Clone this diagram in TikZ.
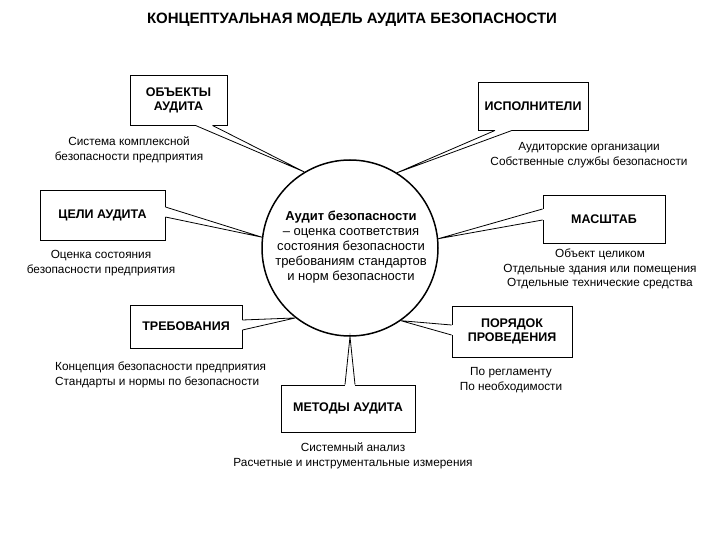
\documentclass[tikz,border=0pt]{standalone}
\usepackage{fontspec}
\setmainfont{Liberation Sans}
\begin{document}
\begin{tikzpicture}[x=1pt,y=-1pt,
  box/.style={draw,line width=0.9pt,fill=white,align=center,font=\bfseries\fontsize{12.5}{14}\selectfont,inner sep=2pt},
  note/.style={align=center,font=\fontsize{11.8}{14.5}\selectfont,inner sep=0pt},
  wedge/.style={draw,line width=0.8pt}]
\useasboundingbox (0,0) rectangle (720,540);
\node[font=\bfseries\fontsize{15}{17}\selectfont] (title) at (352,20) {КОНЦЕПТУАЛЬНАЯ МОДЕЛЬ АУДИТА БЕЗОПАСНОСТИ};
\node[circle,draw,line width=1.5pt,minimum size=176pt,inner sep=0pt] (c) at (350,248) {};
\node[align=center,font=\fontsize{13}{15}\selectfont] (ct) at (351,247) {\textbf{Аудит безопасности}\\– оценка соответствия\\состояния безопасности\\требованиям стандартов\\и норм безопасности};
% boxes
\node[box,minimum width=97pt,minimum height=50pt] (obj) at (178.5,100) {ОБЪЕКТЫ\\АУДИТА};
\node[box,minimum width=110pt,minimum height=48pt] (isp) at (533,106) {ИСПОЛНИТЕЛИ};
\node[box,minimum width=125pt,minimum height=50pt] (tsel) at (102.5,215) {ЦЕЛИ АУДИТА};
\node[box,minimum width=122pt,minimum height=48pt] (mas) at (604,219) {МАСШТАБ};
\node[box,minimum width=112pt,minimum height=43pt] (treb) at (186,326.5) {ТРЕБОВАНИЯ};
\node[box,minimum width=120pt,minimum height=51pt] (por) at (512,331.5) {ПОРЯДОК\\ПРОВЕДЕНИЯ};
\node[box,minimum width=134pt,minimum height=47pt] (met) at (348,408.5) {МЕТОДЫ АУДИТА};
% wedges
\coordinate (o1) at ([xshift=17pt]obj.south); \coordinate (o2) at ([xshift=34pt]obj.south);
\fill[white] ([yshift=-1pt]o1) rectangle ([yshift=1pt]o2);
\draw[wedge] (o1) -- (c.121) -- (o2);
\coordinate (i1) at ([xshift=-38pt]isp.south); \coordinate (i2) at ([xshift=-21pt]isp.south);
\fill[white] ([yshift=-1pt]i1) rectangle ([yshift=1pt]i2);
\draw[wedge] (i1) -- (c.58) -- (i2);
\coordinate (t1) at ([yshift=-2pt]tsel.east); \coordinate (t2) at ([yshift=8pt]tsel.east);
\fill[white] ([xshift=-1pt]t1) rectangle ([xshift=1pt]t2);
\draw[wedge] (t1) -- (c.173) -- (t2);
\coordinate (m1) at ([yshift=-1pt]mas.west); \coordinate (m2) at ([yshift=10pt]mas.west);
\fill[white] ([xshift=-1pt]m1) rectangle ([xshift=1pt]m2);
\draw[wedge] (m1) -- (c.6) -- (m2);
\coordinate (r1) at ([yshift=-3.5pt]treb.east); \coordinate (r2) at ([yshift=6.5pt]treb.east);
\fill[white] ([xshift=-1pt]r1) rectangle ([xshift=1pt]r2);
\draw[wedge] (r1) -- (c.232) -- (r2);
\coordinate (p1) at ([yshift=-3.5pt]por.west); \coordinate (p2) at ([yshift=6.5pt]por.west);
\fill[white] ([xshift=-1pt]p1) rectangle ([xshift=1pt]p2);
\draw[wedge] (p1) -- (c.-55) -- (p2);
\coordinate (e1) at ([xshift=-3pt]met.north); \coordinate (e2) at ([xshift=7pt]met.north);
\fill[white] ([yshift=-1pt]e1) rectangle ([yshift=1pt]e2);
\draw[wedge] (e1) -- (c.-90) -- (e2);
% notes
\node[note] (nobj) at (129,150) {Система комплексной\\безопасности предприятия};
\node[note] (nisp) at (589,155) {Аудиторские организации\\Собственные службы безопасности};
\node[note] (ntsel) at (101,263) {Оценка состояния\\безопасности предприятия};
\node[note] (nmas) at (600,269) {Объект целиком\\Отдельные здания или помещения\\Отдельные технические средства};
\node[note,align=left,anchor=west] (ntreb) at (55,375) {Концепция безопасности предприятия\\Стандарты и нормы по безопасности};
\node[note] (npor) at (511,380) {По регламенту\\По необходимости};
\node[note] (nmet) at (353,456) {Системный анализ\\Расчетные и инструментальные измерения};
\end{tikzpicture}
\end{document}
